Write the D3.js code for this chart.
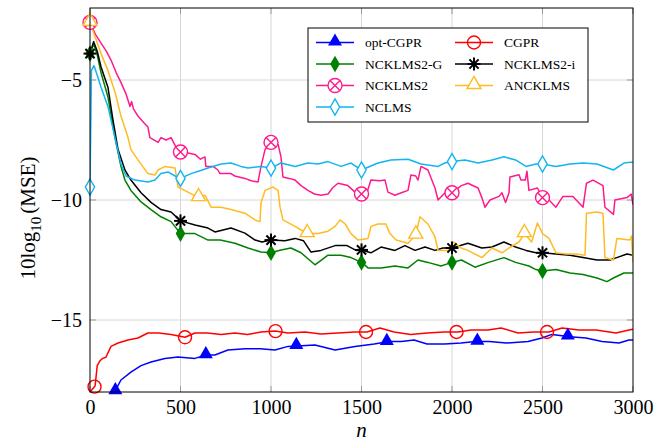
<!DOCTYPE html>
<html>
<head>
<meta charset="utf-8">
<script src="https://cdn.jsdelivr.net/npm/d3@7"></script>
<style>
  body { margin: 0; background: #fff; }
  text { font-family: "Liberation Serif", "Times New Roman", serif; }
</style>
</head>
<body>
<div id="graph"></div>
<script>
// values, [n, 10log10(MSE)]
var optCGPR = [[125,-18.3],[143,-17.9],[171,-17.5],[226,-17.17],[282,-16.9],[337,-16.75],[414,-16.6],[486,-16.54],[580,-16.6],[641,-16.46],[690,-16.46],[762,-16.25],[856,-16.2],[940,-16.2],[1022,-16.25],[1094,-16.1],[1144,-16.08],[1243,-16.04],[1354,-16.25],[1464,-16.1],[1570,-16.0],[1652,-15.9],[1720,-15.9],[1790,-15.83],[1862,-16.0],[1960,-16.0],[2050,-15.96],[2130,-15.9],[2205,-15.9],[2300,-15.96],[2420,-15.9],[2497,-15.75],[2552,-15.6],[2652,-15.7],[2740,-15.75],[2829,-15.9],[2923,-15.96],[2978,-15.83],[3000,-15.83]];
var CGPR = [[0,-18.0],[28,-17.75],[40,-16.9],[55,-16.7],[70,-16.6],[88,-16.55],[116,-16.1],[155,-15.96],[210,-15.83],[265,-15.75],[320,-15.54],[380,-15.54],[448,-15.6],[525,-15.72],[580,-15.54],[650,-15.54],[724,-15.6],[800,-15.54],[870,-15.6],[945,-15.5],[1022,-15.46],[1094,-15.54],[1188,-15.5],[1276,-15.58],[1370,-15.54],[1464,-15.5],[1530,-15.5],[1602,-15.33],[1680,-15.5],[1771,-15.6],[1862,-15.54],[1956,-15.5],[2033,-15.5],[2105,-15.42],[2199,-15.42],[2271,-15.33],[2365,-15.54],[2450,-15.5],[2536,-15.5],[2608,-15.33],[2701,-15.42],[2796,-15.42],[2906,-15.54],[2978,-15.42],[3000,-15.38]];
var NCKLMS2G = [[0,-3.9],[20,-3.5],[40,-3.95],[61,-4.7],[99,-5.7],[138,-7.4],[171,-8.6],[193,-9.17],[226,-9.6],[282,-10.08],[337,-10.4],[392,-10.7],[448,-10.9],[500,-11.4],[580,-11.4],[652,-11.67],[720,-11.67],[801,-11.8],[873,-12.0],[945,-12.17],[1000,-12.2],[1055,-12.08],[1110,-12.0],[1166,-12.2],[1243,-12.7],[1315,-12.3],[1387,-12.3],[1442,-12.4],[1500,-12.6],[1536,-12.83],[1608,-12.83],[1685,-12.75],[1757,-12.83],[1812,-12.5],[1867,-12.6],[1939,-12.75],[2000,-12.6],[2052,-12.5],[2127,-12.8],[2202,-12.6],[2287,-12.4],[2351,-12.6],[2425,-12.75],[2464,-12.9],[2500,-12.96],[2574,-12.9],[2652,-13.04],[2724,-13.1],[2801,-13.25],[2856,-13.4],[2892,-13.25],[2950,-13.04],[3000,-13.04]];
var NCKLMS2i = [[0,-3.9],[20,-3.4],[40,-3.8],[61,-4.46],[99,-5.3],[127,-6.67],[155,-7.9],[193,-8.75],[226,-9.17],[282,-9.7],[337,-10.1],[392,-10.4],[448,-10.5],[500,-10.87],[580,-11.04],[652,-11.17],[690,-11.33],[779,-11.17],[856,-11.38],[912,-11.67],[950,-11.75],[1000,-11.67],[1077,-11.7],[1133,-11.6],[1180,-11.7],[1221,-12.17],[1276,-12.1],[1354,-11.9],[1420,-11.9],[1470,-12.1],[1500,-12.08],[1552,-12.2],[1608,-11.96],[1685,-12.1],[1740,-11.9],[1796,-12.1],[1851,-11.96],[1906,-12.1],[1950,-12.0],[2000,-12.0],[2088,-11.8],[2165,-12.0],[2221,-11.96],[2287,-11.75],[2351,-11.96],[2409,-12.1],[2464,-12.2],[2500,-12.2],[2574,-12.25],[2652,-12.3],[2724,-12.4],[2801,-12.5],[2873,-12.5],[2910,-12.4],[2967,-12.25],[3000,-12.3]];
var NCKLMS2 = [[0,-2.6],[30,-3.1],[61,-3.46],[90,-3.8],[116,-4.17],[145,-4.7],[171,-5.1],[200,-5.6],[221,-6.1],[230,-5.9],[240,-6.2],[265,-6.5],[300,-6.8],[320,-6.96],[331,-7.4],[376,-7.6],[392,-7.4],[420,-7.5],[448,-7.4],[475,-7.8],[500,-8.0],[541,-8.04],[580,-8.1],[610,-8.3],[635,-8.2],[640,-8.6],[680,-8.6],[707,-8.75],[718,-8.9],[779,-8.9],[800,-9.0],[856,-9.1],[890,-9.2],[928,-9.25],[945,-8.6],[967,-7.9],[1000,-7.6],[1040,-7.7],[1055,-8.2],[1066,-9.04],[1100,-9.1],[1133,-9.17],[1166,-9.4],[1204,-9.6],[1240,-9.75],[1276,-9.8],[1315,-9.75],[1340,-9.5],[1370,-9.3],[1425,-9.4],[1464,-9.67],[1500,-9.75],[1530,-9.7],[1552,-9.17],[1600,-9.2],[1630,-9.17],[1646,-9.67],[1685,-9.8],[1720,-9.7],[1757,-9.6],[1773,-8.96],[1800,-9.0],[1812,-9.17],[1829,-8.6],[1867,-8.75],[1906,-9.5],[1923,-10.0],[1961,-9.7],[2000,-9.7],[2052,-9.4],[2088,-9.3],[2144,-9.5],[2165,-9.9],[2182,-10.3],[2210,-10.0],[2260,-9.85],[2276,-9.7],[2296,-10.1],[2315,-9.7],[2320,-9.04],[2370,-8.95],[2381,-9.17],[2405,-9.17],[2414,-8.8],[2425,-9.6],[2472,-9.5],[2500,-9.9],[2536,-10.0],[2574,-10.3],[2613,-9.85],[2668,-9.85],[2724,-10.3],[2743,-9.3],[2779,-9.17],[2834,-9.4],[2845,-10.3],[2892,-10.6],[2900,-10.0],[2967,-9.9],[2990,-9.75],[3000,-10.2]];
var ANCKLMS = [[0,-2.6],[28,-3.2],[61,-3.9],[99,-4.6],[138,-5.5],[171,-6.5],[210,-7.4],[226,-7.9],[265,-8.33],[320,-8.9],[359,-8.96],[376,-8.75],[414,-8.6],[470,-8.67],[486,-9.46],[541,-9.67],[600,-9.9],[635,-9.8],[669,-10.3],[724,-10.3],[779,-10.4],[856,-10.55],[912,-10.83],[939,-10.9],[945,-10.1],[967,-9.6],[1011,-9.46],[1039,-9.6],[1050,-10.3],[1066,-10.83],[1133,-11.1],[1166,-11.25],[1200,-11.4],[1260,-11.4],[1315,-11.3],[1354,-11.1],[1381,-10.83],[1410,-11.0],[1442,-11.4],[1481,-11.67],[1536,-11.6],[1552,-11.1],[1591,-11.0],[1635,-11.0],[1657,-11.4],[1691,-11.67],[1757,-11.8],[1800,-11.46],[1823,-10.7],[1867,-11.0],[1906,-11.54],[1923,-12.1],[1978,-12.1],[2006,-11.75],[2017,-11.8],[2050,-12.0],[2088,-12.1],[2165,-12.4],[2221,-12.0],[2276,-12.2],[2315,-12.0],[2370,-11.75],[2400,-11.4],[2440,-11.75],[2472,-10.96],[2500,-11.4],[2536,-11.6],[2574,-12.2],[2630,-12.25],[2685,-12.25],[2735,-12.3],[2743,-10.55],[2801,-10.5],[2834,-10.55],[2845,-12.4],[2892,-12.5],[2911,-11.6],[2983,-11.67],[2992,-11.5],[3000,-12.6]];
var NCLMS = [[0,-9.46],[8,-4.6],[22,-4.4],[40,-4.8],[61,-5.3],[99,-6.1],[138,-7.4],[171,-8.5],[199,-9.0],[249,-9.17],[320,-9.25],[359,-9.17],[392,-8.9],[431,-8.83],[470,-9.0],[500,-9.1],[558,-8.9],[600,-8.8],[652,-8.67],[724,-8.5],[779,-8.46],[834,-8.6],[873,-8.67],[945,-8.6],[1000,-8.67],[1055,-8.46],[1133,-8.6],[1204,-8.46],[1260,-8.5],[1315,-8.4],[1387,-8.6],[1442,-8.46],[1500,-8.75],[1591,-8.46],[1663,-8.33],[1757,-8.3],[1829,-8.5],[1923,-8.6],[1960,-8.46],[2000,-8.4],[2072,-8.33],[2144,-8.46],[2221,-8.33],[2287,-8.2],[2351,-8.33],[2409,-8.6],[2464,-8.5],[2500,-8.5],[2574,-8.6],[2652,-8.5],[2724,-8.46],[2801,-8.5],[2892,-8.75],[2950,-8.46],[3000,-8.42]];

// where the marks sit along each curve
var marksOpt = [140, 640, 1140, 1640, 2140, 2640];
var marksCGPR = [25, 525, 1025, 1525, 2025, 2525];
var marksEvery500 = [0, 500, 1000, 1500, 2000, 2500];
var marksANC = [0, 600, 1200, 1800, 2400];

var xTicks = [0, 500, 1000, 1500, 2000, 2500, 3000];
var yTicks = [-5, -10, -15];

var series = [
  {name: "opt-CGPR", data: optCGPR, color: "#0000ff", mark: "tri", at: marksOpt},
  {name: "CGPR", data: CGPR, color: "#ff0000", mark: "circ", at: marksCGPR},
  {name: "NCKLMS2-G", data: NCKLMS2G, color: "#008000", mark: "diam", at: marksEvery500},
  {name: "NCKLMS2-i", data: NCKLMS2i, color: "#000000", mark: "star", at: marksEvery500},
  {name: "NCKLMS2", data: NCKLMS2, color: "#ff1a8c", mark: "otimes", at: marksEvery500},
  {name: "ANCKLMS", data: ANCKLMS, color: "#ffbb22", mark: "otri", at: marksANC},
  {name: "NCLMS", data: NCLMS, color: "#14b4f0", mark: "odiam", at: marksEvery500}
];

var W = 660, H = 442;
var pLeft = 90, pRight = 633, pTop = 8, pBottom = 392;

var svg = d3.select("#graph").append("svg")
  .attr("width", W).attr("height", H)

var x = d3.scaleLinear().domain([0, 3000]).range([pLeft, pRight]);
var y = d3.scaleLinear().domain([-18, -2]).range([pBottom, pTop]);

// grid
svg.selectAll(".gx").data(xTicks.slice(1, -1)).enter().append("line")
  .attr("x1", d => x(d)).attr("x2", d => x(d))
  .attr("y1", pTop).attr("y2", pBottom)
  .attr("stroke", "#d6d6d6").attr("stroke-width", 1)
svg.selectAll(".gy").data(yTicks).enter().append("line")
  .attr("x1", pLeft).attr("x2", pRight)
  .attr("y1", d => y(d)).attr("y2", d => y(d))
  .attr("stroke", "#d6d6d6").attr("stroke-width", 1)

// small ticks on all four sides, pointing in
var tickLen = 6;
xTicks.forEach(function(t) {
  svg.append("line").attr("x1", x(t)).attr("x2", x(t)).attr("y1", pBottom).attr("y2", pBottom - tickLen)
    .attr("stroke", "#999").attr("stroke-width", 1)
  svg.append("line").attr("x1", x(t)).attr("x2", x(t)).attr("y1", pTop).attr("y2", pTop + tickLen)
    .attr("stroke", "#999").attr("stroke-width", 1)
})
yTicks.forEach(function(t) {
  svg.append("line").attr("x1", pLeft).attr("x2", pLeft + tickLen).attr("y1", y(t)).attr("y2", y(t))
    .attr("stroke", "#999").attr("stroke-width", 1)
  svg.append("line").attr("x1", pRight).attr("x2", pRight - tickLen).attr("y1", y(t)).attr("y2", y(t))
    .attr("stroke", "#999").attr("stroke-width", 1)
})

// tick labels
var xAxis = d3.axisBottom(x).tickValues(xTicks).tickSize(0).tickPadding(8).tickFormat(d3.format("d"));
var gx = svg.append("g").attr("transform", "translate(0," + pBottom + ")").call(xAxis);
gx.select(".domain").remove();
gx.selectAll("text").attr("font-size", 20).attr("fill", "#000")
  .attr("font-family", "Liberation Serif");

var yAxis = d3.axisLeft(y).tickValues(yTicks).tickSize(0).tickPadding(8)
  .tickFormat(d => "\u2212" + Math.abs(d));
var gy = svg.append("g").attr("transform", "translate(" + pLeft + ",0)").call(yAxis);
gy.select(".domain").remove();
gy.selectAll("text").attr("font-size", 20).attr("fill", "#000")
  .attr("font-family", "Liberation Serif");

// curves
svg.append("clipPath").attr("id", "plotclip").append("rect")
  .attr("x", pLeft).attr("y", pTop).attr("width", pRight - pLeft).attr("height", pBottom - pTop);

var line = d3.line().x(d => x(d[0])).y(d => y(d[1]));

var plot = svg.append("g").attr("clip-path", "url(#plotclip)");
series.forEach(function(s) {
  plot.append("path").attr("d", line(s.data))
    .attr("fill", "none").attr("stroke", s.color).attr("stroke-width", 1.5)
    .attr("stroke-linejoin", "round")
})

// marker drawing
function drawMark(g, kind, color, cx, cy) {
  if (kind == "tri") {
    g.append("path").attr("d", d3.symbol(d3.symbolTriangle, 85)())
      .attr("transform", "translate(" + cx + "," + (cy - 1) + ")").attr("fill", color)
  } else if (kind == "otri") {
    g.append("path").attr("d", d3.symbol(d3.symbolTriangle, 85)())
      .attr("transform", "translate(" + cx + "," + (cy - 1) + ")")
      .attr("fill", "#fff").attr("stroke", color).attr("stroke-width", 1.4)
  } else if (kind == "circ") {
    g.append("circle").attr("cx", cx).attr("cy", cy).attr("r", 6.5)
      .attr("fill", "none").attr("stroke", color).attr("stroke-width", 1.4)
  } else if (kind == "diam") {
    g.append("path").attr("d", d3.symbol(d3.symbolDiamond, 80)())
      .attr("transform", "translate(" + cx + "," + cy + ")").attr("fill", color)
  } else if (kind == "odiam") {
    g.append("path").attr("d", d3.symbol(d3.symbolDiamond, 75)())
      .attr("transform", "translate(" + cx + "," + cy + ")")
      .attr("fill", "#fff").attr("stroke", color).attr("stroke-width", 1.4)
  } else if (kind == "star") {
    for (var k = 0; k < 4; k++) {
      var a = k * Math.PI / 4, r = 6.5;
      g.append("line").attr("x1", cx - r * Math.cos(a)).attr("x2", cx + r * Math.cos(a))
        .attr("y1", cy - r * Math.sin(a)).attr("y2", cy + r * Math.sin(a))
        .attr("stroke", color).attr("stroke-width", 2)
    }
  } else if (kind == "otimes") {
    var r = 7;
    g.append("circle").attr("cx", cx).attr("cy", cy).attr("r", r)
      .attr("fill", "#fff").attr("stroke", color).attr("stroke-width", 1.4)
    var q = r * 0.707;
    g.append("line").attr("x1", cx - q).attr("x2", cx + q).attr("y1", cy - q).attr("y2", cy + q)
      .attr("stroke", color).attr("stroke-width", 1.4)
    g.append("line").attr("x1", cx - q).attr("x2", cx + q).attr("y1", cy + q).attr("y2", cy - q)
      .attr("stroke", color).attr("stroke-width", 1.4)
  }
}

// value of a curve at n (for placing marks on it)
function valueAt(data, n) {
  var i = d3.bisector(d => d[0]).left(data, n);
  if (i <= 0) return data[0][1];
  if (i >= data.length) return data[data.length - 1][1];
  var a = data[i - 1], b = data[i];
  return a[1] + (b[1] - a[1]) * (n - a[0]) / (b[0] - a[0]);
}

var marks = svg.append("g");
series.forEach(function(s) {
  s.at.forEach(function(n) {
    drawMark(marks, s.mark, s.color, x(n), y(valueAt(s.data, n)))
  })
})

// frame
svg.append("rect").attr("x", pLeft).attr("y", pTop).attr("width", pRight - pLeft).attr("height", pBottom - pTop)
  .attr("fill", "none").attr("stroke", "#000").attr("stroke-width", 1)

// axis labels
svg.append("text").attr("x", (pLeft + pRight) / 2).attr("y", 437)
  .attr("text-anchor", "middle").attr("font-size", 21).attr("font-style", "italic").text("n")

var yl = svg.append("text").attr("transform", "translate(35,218) rotate(-90)")
  .attr("text-anchor", "middle").attr("font-size", 21)
yl.append("tspan").text("10log");
yl.append("tspan").attr("font-size", 15).attr("dy", 6).text("10");
yl.append("tspan").attr("dy", -6).attr("dx", 3).text("(MSE)");

// legend
var lg = svg.append("g");
lg.append("rect").attr("x", 308).attr("y", 28).attr("width", 280).attr("height", 94)
  .attr("fill", "#fff").attr("stroke", "#000").attr("stroke-width", 1)
var legendOrder = ["opt-CGPR", "CGPR", "NCKLMS2-G", "NCKLMS2-i", "NCKLMS2", "ANCKLMS", "NCLMS"];
legendOrder.forEach(function(nm, i) {
  var s = series.find(d => d.name == nm);
  var col = i % 2, row = Math.floor(i / 2);
  var lx = 316 + col * 139, ly = 42.5 + row * 21.5;
  lg.append("line").attr("x1", lx).attr("x2", lx + 38).attr("y1", ly).attr("y2", ly)
    .attr("stroke", s.color).attr("stroke-width", 1.5)
  drawMark(lg, s.mark, s.color, lx + 19, ly)
  lg.append("text").attr("x", lx + 49).attr("y", ly).attr("dy", "0.35em")
    .attr("font-size", 13.5).text(nm)
})
</script>
</body>
</html>
